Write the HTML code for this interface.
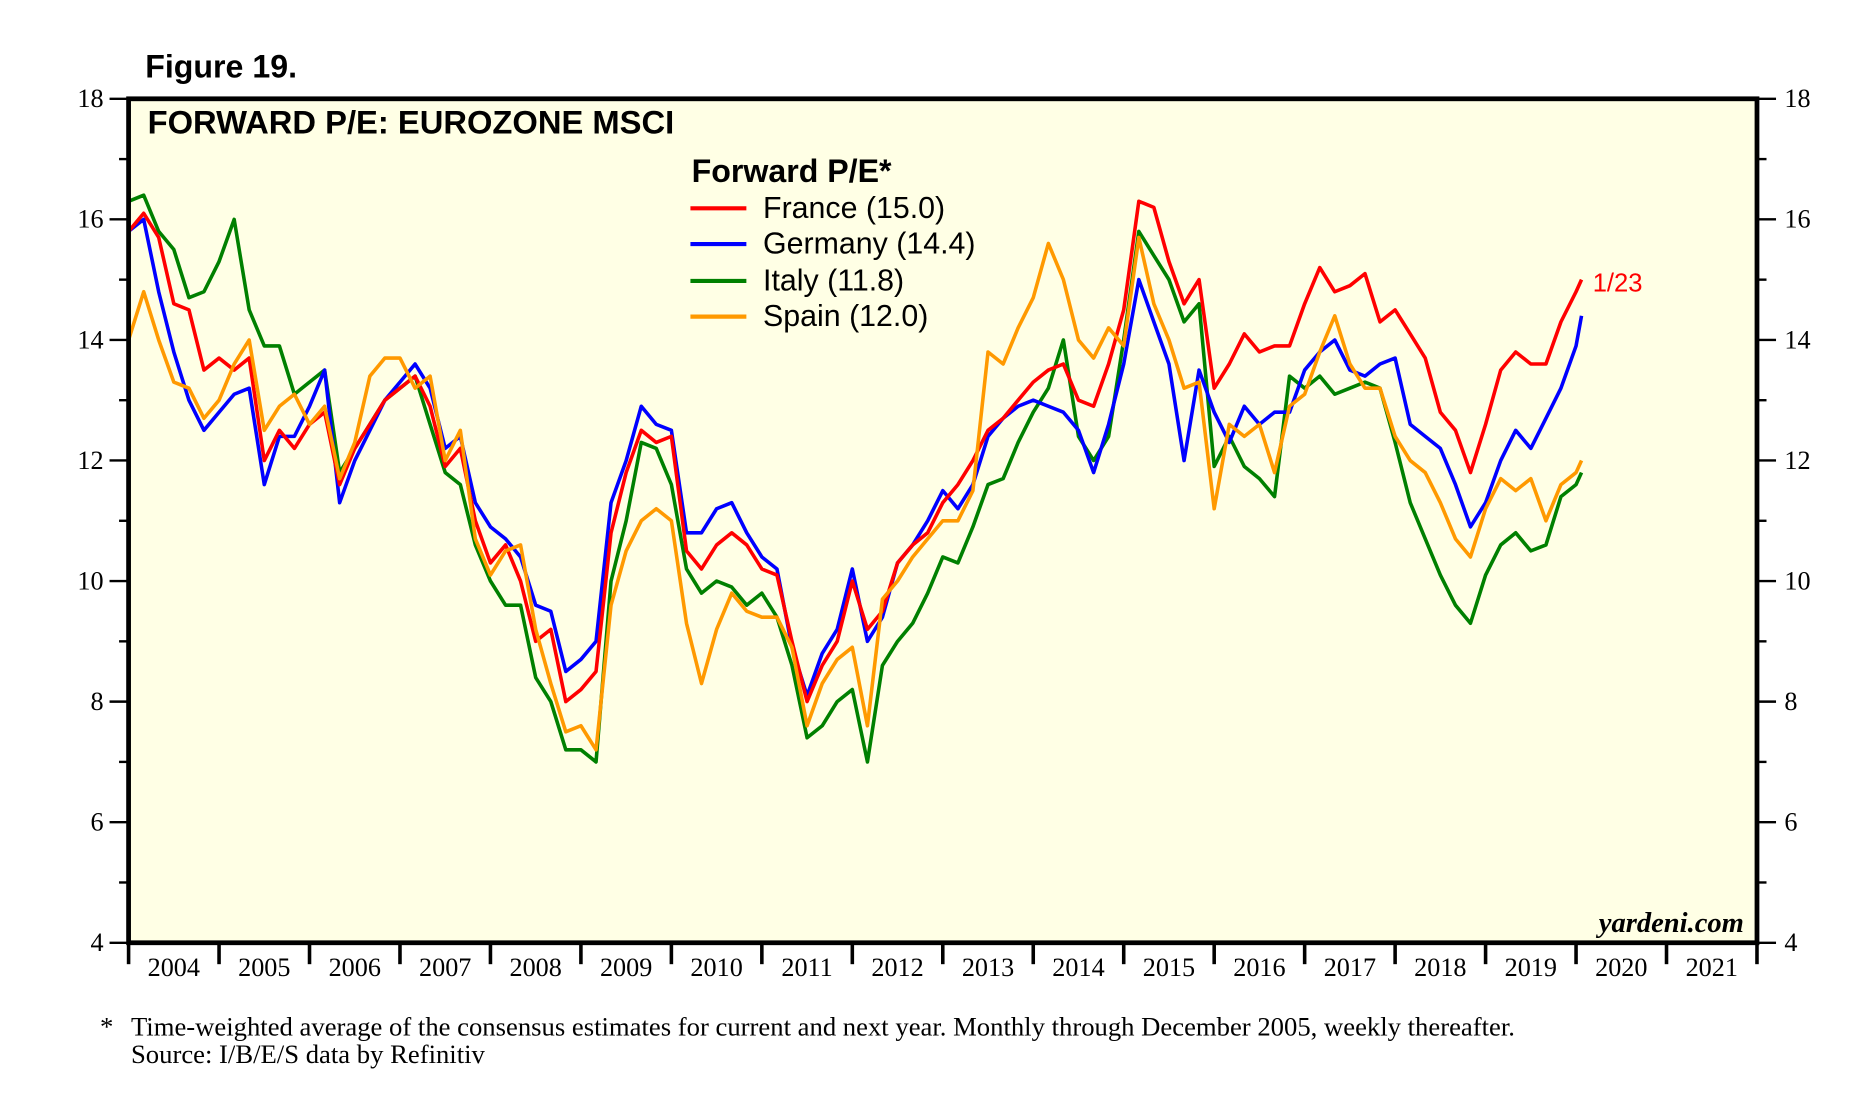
<!DOCTYPE html>
<html><head><meta charset="utf-8"><style>
html,body{margin:0;padding:0;background:#fff}
svg{display:block}
</style></head><body>
<svg id="chart" width="1857" height="1115" viewBox="0 0 1560 936.7" xmlns="http://www.w3.org/2000/svg">
<text x="122" y="65" font-family="Liberation Sans, sans-serif" font-weight="bold" font-size="27">Figure 19.</text>
<rect x="108" y="83" width="1368" height="709" fill="#FFFFE5" stroke="none"/>
<g id="series"></g>
<rect x="108" y="83" width="1368" height="709" fill="none" stroke="#000" stroke-width="4"/>
<g id="axes"></g>
<text x="124" y="112" font-family="Liberation Sans, sans-serif" font-weight="bold" font-size="27.5">FORWARD P/E: EUROZONE MSCI</text>
<g font-family="Liberation Sans, sans-serif">
<text x="581" y="153" font-weight="bold" font-size="27">Forward P/E*</text>
<line x1="580" y1="175" x2="627" y2="175" stroke="#f00" stroke-width="3.5"/>
<text x="641" y="183" font-size="25.5">France (15.0)</text>
<line x1="580" y1="205" x2="627" y2="205" stroke="#00f" stroke-width="3.5"/>
<text x="641" y="213" font-size="25.5">Germany (14.4)</text>
<line x1="580" y1="236" x2="627" y2="236" stroke="#008000" stroke-width="3.5"/>
<text x="641" y="244" font-size="25.5">Italy (11.8)</text>
<line x1="580" y1="266" x2="627" y2="266" stroke="#FF9900" stroke-width="3.5"/>
<text x="641" y="274" font-size="25.5">Spain (12.0)</text>
</g>
<text x="1338" y="245" fill="#f00" font-family="Liberation Sans, sans-serif" font-size="21.5">1/23</text>
<text x="1465" y="783" text-anchor="end" font-family="Liberation Serif, serif" font-style="italic" font-weight="bold" font-size="24">yardeni.com</text>
<g font-family="Liberation Serif, serif" font-size="22.4">
<text x="84" y="870">*</text>
<text x="110" y="870">Time-weighted average of the consensus estimates for current and next year. Monthly through December 2005, weekly thereafter.</text>
<text x="110" y="893">Source: I/B/E/S data by Refinitiv</text>
</g>
</svg>
<script>
const yTicks = [4, 6, 8, 10, 12, 14, 16, 18];
const years = [2004,2005,2006,2007,2008,2009,2010,2011,2012,2013,2014,2015,2016,2017,2018,2019,2020,2021];
const france = [15.8,16.1,15.7,14.6,14.5,13.5,13.7,13.5,13.7,12.0,12.5,12.2,12.6,12.8,11.6,12.2,12.6,13.0,13.2,13.4,12.9,11.9,12.2,11.0,10.3,10.6,10.0,9.0,9.2,8.0,8.2,8.5,10.8,11.8,12.5,12.3,12.4,10.5,10.2,10.6,10.8,10.6,10.2,10.1,9.0,8.0,8.6,9.0,10.0,9.2,9.5,10.3,10.6,10.8,11.3,11.6,12.0,12.5,12.7,13.0,13.3,13.5,13.6,13.0,12.9,13.6,14.5,16.3,16.2,15.3,14.6,15.0,13.2,13.6,14.1,13.8,13.9,13.9,14.6,15.2,14.8,14.9,15.1,14.3,14.5,14.1,13.7,12.8,12.5,11.8,12.6,13.5,13.8,13.6,13.6,14.3,14.8,15.0];
const germany = [15.8,16.0,14.8,13.8,13.0,12.5,12.8,13.1,13.2,11.6,12.4,12.4,12.9,13.5,11.3,12.0,12.5,13.0,13.3,13.6,13.2,12.2,12.4,11.3,10.9,10.7,10.4,9.6,9.5,8.5,8.7,9.0,11.3,12.0,12.9,12.6,12.5,10.8,10.8,11.2,11.3,10.8,10.4,10.2,8.9,8.1,8.8,9.2,10.2,9.0,9.4,10.3,10.6,11.0,11.5,11.2,11.6,12.4,12.7,12.9,13.0,12.9,12.8,12.5,11.8,12.6,13.6,15.0,14.3,13.6,12.0,13.5,12.8,12.3,12.9,12.6,12.8,12.8,13.5,13.8,14.0,13.5,13.4,13.6,13.7,12.6,12.4,12.2,11.6,10.9,11.3,12.0,12.5,12.2,12.7,13.2,13.9,14.4];
const italy = [16.3,16.4,15.8,15.5,14.7,14.8,15.3,16.0,14.5,13.9,13.9,13.1,13.3,13.5,11.8,12.2,12.6,13.0,13.2,13.4,12.6,11.8,11.6,10.6,10.0,9.6,9.6,8.4,8.0,7.2,7.2,7.0,10.0,11.0,12.3,12.2,11.6,10.2,9.8,10.0,9.9,9.6,9.8,9.4,8.6,7.4,7.6,8.0,8.2,7.0,8.6,9.0,9.3,9.8,10.4,10.3,10.9,11.6,11.7,12.3,12.8,13.2,14.0,12.4,12.0,12.4,14.0,15.8,15.4,15.0,14.3,14.6,11.9,12.4,11.9,11.7,11.4,13.4,13.2,13.4,13.1,13.2,13.3,13.2,12.3,11.3,10.7,10.1,9.6,9.3,10.1,10.6,10.8,10.5,10.6,11.4,11.6,11.8];
const spain = [14.0,14.8,14.0,13.3,13.2,12.7,13.0,13.6,14.0,12.5,12.9,13.1,12.6,12.9,11.7,12.3,13.4,13.7,13.7,13.2,13.4,12.0,12.5,10.7,10.1,10.5,10.6,9.2,8.3,7.5,7.6,7.2,9.6,10.5,11.0,11.2,11.0,9.3,8.3,9.2,9.8,9.5,9.4,9.4,8.9,7.6,8.3,8.7,8.9,7.6,9.7,10.0,10.4,10.7,11.0,11.0,11.5,13.8,13.6,14.2,14.7,15.6,15.0,14.0,13.7,14.2,13.9,15.7,14.6,14.0,13.2,13.3,11.2,12.6,12.4,12.6,11.8,12.9,13.1,13.8,14.4,13.6,13.2,13.2,12.4,12.0,11.8,11.3,10.7,10.4,11.2,11.7,11.5,11.7,11.0,11.6,11.8,12.0];

const NS = 'http://www.w3.org/2000/svg';
const X0 = 108, X1 = 1476, Y0 = 792, Y1 = 83;
function xScale(yr){ return X0 + (yr - 2004) * (X1 - X0) / 18; }
function yScale(v){ return Y0 - (v - 4) * (Y0 - Y1) / 14; }
function dateAt(i, n){ return i < n - 1 ? 2004 + i / 6 : 2020.06; }

const seriesG = document.getElementById('series');
const defs = [['italy', italy, '#008000'], ['germany', germany, '#0000ff'], ['france', france, '#ff0000'], ['spain', spain, '#FF9900']];
defs.forEach(function(d){
  const vals = d[1];
  let pts = vals.map(function(v, i){ return xScale(dateAt(i, vals.length)).toFixed(1) + ',' + yScale(v).toFixed(1); }).join(' ');
  const pl = document.createElementNS(NS, 'polyline');
  pl.setAttribute('points', pts);
  pl.setAttribute('fill', 'none');
  pl.setAttribute('stroke', d[2]);
  pl.setAttribute('stroke-width', '3');
  pl.setAttribute('stroke-linejoin', 'round');
  
  
  seriesG.appendChild(pl);
});

const axes = document.getElementById('axes');
function mk(tag, attrs){ const e = document.createElementNS(NS, tag); for (const k in attrs) e.setAttribute(k, attrs[k]); axes.appendChild(e); return e; }
for (let v = 4; v <= 18; v++) {
  const y = yScale(v);
  const major = v % 2 === 0;
  const tl = mk('line', {x1: major ? 92 : 100, y1: y, x2: 108, y2: y, stroke: '#000', 'stroke-width': 2});
  
  
  const tr = mk('line', {x1: 1476, y1: y, x2: major ? 1492 : 1484, y2: y, stroke: '#000', 'stroke-width': 2});
  
  
}
yTicks.forEach(function(v){
  const y = yScale(v) + 7;
  const l = mk('text', {x: 87, y: y, 'text-anchor': 'end', 'font-family': 'Liberation Serif, serif', 'font-size': 22});
  l.textContent = v;
  
  
  const r = mk('text', {x: 1499, y: y, 'font-family': 'Liberation Serif, serif', 'font-size': 22});
  r.textContent = v;
  
  
});
for (let k = 0; k <= years.length; k++) {
  const x = xScale(2004 + k);
  const t = mk('line', {x1: x, y1: 792, x2: x, y2: 810, stroke: '#000', 'stroke-width': 3});
  
  
}
years.forEach(function(yr){
  const l = mk('text', {x: xScale(yr + 0.5), y: 820, 'text-anchor': 'middle', 'font-family': 'Liberation Serif, serif', 'font-size': 22});
  l.textContent = yr;
  
  
});
</script>
</body></html>
